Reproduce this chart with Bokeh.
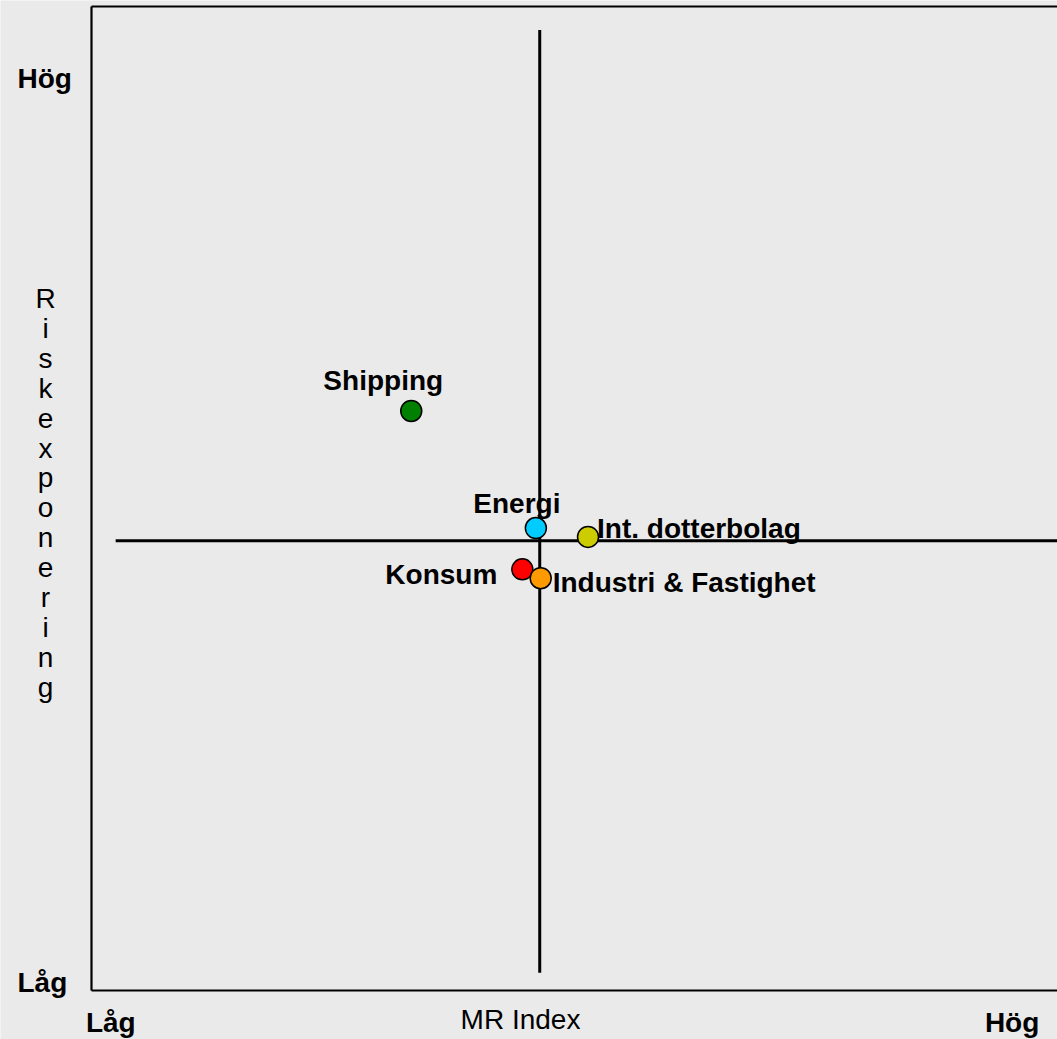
from bokeh.plotting import figure
from bokeh.models import Range1d
from bokeh.core.properties import value
from bokeh.embed import file_html
from bokeh.resources import INLINE

# ---------------- data ----------------
segments = ["Shipping", "Energi", "Int. dotterbolag", "Konsum", "Industri & Fastighet"]
mr_index = [33.1, 46.0, 51.4, 44.6, 46.5]      # x (MR Index)
risk = [58.9, 47.0, 46.1, 42.8, 41.9]          # y (Riskexponering)
colors = ["#008000", "#00CCFF", "#CCCC00", "#FF0000", "#FF9900"]

x_ticks = [2.0, 95.3]
x_tick_labels = ["Låg", "Hög"]
y_ticks = [0.9, 92.8]
y_tick_labels = ["Låg", "Hög"]
x_title = "MR Index"
y_title = "Riskexponering"

# quadrant cross (mid values) and its extents
mid_x = 46.4
mid_y = 45.7
h_line_extent = [2.5, 100.0]
v_line_extent = [1.8, 97.6]

# ---------------- geometry / styles ----------------
FONT = "Liberation Sans"
BG = "#EAEAEA"
W, H = 1057, 1039
AX_LEFT_PX, AX_BOTTOM_PX, AX_TOP_PX = 91, 990, 6
FIX = -9   # baseline correction (px)

x_per_px = 100.0 / (W - AX_LEFT_PX)
y_per_px = 100.0 / (AX_BOTTOM_PX - AX_TOP_PX)
x_range = Range1d(-AX_LEFT_PX * x_per_px, 100.0)
y_range = Range1d(-(H - AX_BOTTOM_PX) * y_per_px, 100.0 + AX_TOP_PX * y_per_px)

def sx(px):
    return (px - AX_LEFT_PX) * x_per_px

def sy(py):
    return (AX_BOTTOM_PX - py) * y_per_px

# label placement relative to points: (align, x_offset px, y_offset px)
label_style = [
    ("center", -28, -21),
    ("center", -19, -16),
    ("left", 9, 1),
    ("right", -25, 14),
    ("left", 12, 13),
]

p = figure(width=W, height=H, x_range=x_range, y_range=y_range,
           output_backend="svg", toolbar_location=None,
           min_border=0, min_border_left=0, min_border_right=0,
           min_border_top=0, min_border_bottom=0)
p.background_fill_color = BG
p.border_fill_color = BG
p.outline_line_color = None
p.grid.grid_line_color = None
p.axis.visible = False

# chart frame: left axis, bottom axis, top border
p.segment(x0=[0, 0, 0], y0=[0, 0, 100], x1=[0, 100, 100], y1=[100, 0, 100],
          line_color="black", line_width=2.2)

# quadrant cross
p.segment(x0=[mid_x, h_line_extent[0]], y0=[v_line_extent[0], mid_y],
          x1=[mid_x, h_line_extent[1]], y1=[v_line_extent[1], mid_y],
          line_color="black", line_width=3)

# points
p.scatter(x=mr_index, y=risk, size=21, fill_color=colors, line_color="black",
          line_width=1.5)

# point labels
for name, xv, yv, (al, dx, dy) in zip(segments, mr_index, risk, label_style):
    p.text(x=[xv], y=[yv], text=[name], text_align=al, text_baseline="alphabetic",
           x_offset=dx, y_offset=dy + FIX, text_font=value(FONT),
           text_font_style="bold", text_font_size="28px", text_color="black")

# tick labels (y: left aligned column left of axis; x: centred below axis)
p.text(x=[sx(17)] * len(y_ticks), y=y_ticks, text=y_tick_labels, text_align="left",
       text_baseline="alphabetic", y_offset=10 + FIX, text_font=value(FONT),
       text_font_style="bold", text_font_size="28px", text_color="black")
p.text(x=x_ticks, y=[0] * len(x_ticks), text=x_tick_labels, text_align="center",
       text_baseline="alphabetic", y_offset=41 + FIX, text_font=value(FONT),
       text_font_style="bold", text_font_size="28px", text_color="black")

# axis titles
p.text(x=[sx(520)], y=[0], text=[x_title], text_align="center",
       text_baseline="alphabetic", y_offset=38 + FIX, text_font=value(FONT),
       text_font_size="28px", text_color="black")

letters = list(y_title)
p.text(x=[sx(45)] * len(letters), y=[sy(307 + 29.9 * i) for i in range(len(letters))],
       text=letters, text_align="center", text_baseline="alphabetic", y_offset=FIX,
       text_font=value(FONT), text_font_size="28px", text_color="black")

html = file_html(p, INLINE)
html = html.replace("<body>", '<body style="background-color:#EAEAEA;">', 1)
open("out.html", "w").write(html)
